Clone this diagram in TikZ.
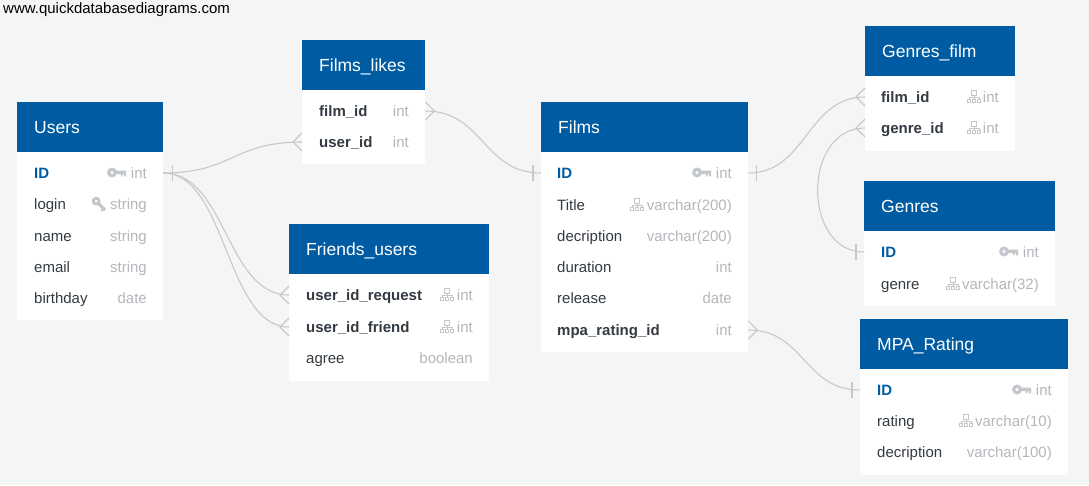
\documentclass[tikz,border=0pt]{standalone}
\usepackage{fontspec}
\setmainfont{Liberation Sans}
\usetikzlibrary{calc}
\definecolor{pagebg}{HTML}{F4F6F6}
\definecolor{headblue}{HTML}{005CA2}
\definecolor{typegray}{HTML}{B4B7BC}
\definecolor{icongray}{HTML}{C4C7CC}
\definecolor{linkgray}{HTML}{C8C8C8}
\definecolor{ink}{HTML}{333A42}
\tikzset{
  x=1pt,y=-1pt,
  tablehead/.style={draw=none,fill=headblue,text=white,minimum height=50pt,text depth=0pt,inner sep=0pt,anchor=north west,font=\fontsize{17.5}{17.5}\selectfont},
  rowbox/.style={draw=none,fill=white,minimum height=31.2pt,inner sep=0pt,anchor=west},
  coltext/.style={inner sep=0pt,anchor=base west,text=ink,font=\fontsize{15}{15}\selectfont},
  fkname/.style={coltext,font=\fontsize{15}{15}\selectfont\bfseries},
  pkname/.style={coltext,text=headblue,font=\fontsize{15}{15}\selectfont\bfseries},
  typetext/.style={inner sep=0pt,anchor=base east,text=typegray,font=\fontsize{15}{15}\selectfont},
  link/.style={draw=linkgray,line width=1.1pt},
  iconline/.style={draw=icongray,line width=0.8pt},
}
% table header: name, x, y, width, title
\newcommand{\tablehd}[5]{\node[tablehead,minimum width=#4pt] (#1) at (#2,#3) {};
  \node[inner sep=0pt,anchor=base west,text=white,font=\fontsize{17.5}{17.5}\selectfont] (#1t) at ($(#1.north west)+(17,31)$) {#5};}
% row: name, x, centre y, width, height
\newcommand{\rowb}[5]{\node[rowbox,minimum width=#4pt,minimum height=#5pt] (#1) at (#2,#3) {};}
% bar across a link, offset from an anchor
\newcommand{\linkbar}[2]{\draw[link] ($(#1)+(#2,-8)$) -- ($(#1)+(#2,8)$);}
% crow's foot: anchor, signed length
\newcommand{\crow}[2]{\draw[link] ($(#1)+(0,-9)$) -- ($(#1)+(#2,0)$) -- ($(#1)+(0,9)$);}
% primary-key icon, right end at given point
\newcommand{\pkicon}[1]{\begin{scope}[shift={(#1)}]
  \fill[icongray,even odd rule] (-14,0) circle (5) (-14,0) circle (1.8);
  \fill[icongray] (-10.5,-1.8) rectangle (0,1.6) (-5.2,1) rectangle (-3.4,3.8) (-2,1) rectangle (0,3.8);
\end{scope}}
% unique-key icon, tilted, tail end at given point
\newcommand{\ukicon}[1]{\begin{scope}[shift={(#1)},rotate=-45]
  \fill[icongray,even odd rule] (-12.5,0) circle (4.5) (-12.5,0) circle (1.6);
  \fill[icongray] (-9,-1.5) rectangle (0,1.5) (-3,1) rectangle (-1,3.4);
\end{scope}}
% foreign-key tree icon, centred
\newcommand{\fkicon}[1]{\begin{scope}[shift={(#1)}]
  \draw[iconline,line width=0.7pt] (-2.5,-6.5) rectangle (2.5,-2);
  \draw[iconline,line width=0.7pt] (0,-2) -- (0,1.5) (-5,1.5) -- (-5,0) -- (5,0) -- (5,1.5);
  \draw[iconline,line width=0.7pt] (-6.5,2) rectangle (-3.5,5.5) (-1.5,2) rectangle (1.5,5.5) (3.5,2) rectangle (6.5,5.5);
\end{scope}}
\begin{document}
\begin{tikzpicture}
\useasboundingbox (0,0) rectangle (1089,485);
\fill[pagebg] (0,0) rectangle (1089,485);
\node[inner sep=0pt,anchor=base west,text=black,font=\fontsize{15}{15}\selectfont] (site) at (3,13) {www.quickdatabasediagrams.com};

% ---- Users
\tablehd{users}{17}{102}{146}{Users}
\fill[white] (17,152) rectangle (163,320);
\rowb{uid}{17}{173}{146}{31}
\rowb{ulogin}{17}{204}{146}{31}
\rowb{uname}{17}{236}{146}{31}
\rowb{uemail}{17}{267}{146}{31}
\rowb{ubirth}{17}{298}{146}{31}
\node[pkname] at (34,178) {ID}; \node[typetext] at (147,178) {int}; \pkicon{126,172.5}
\node[coltext] at (34,209) {login}; \node[typetext] at (147,209) {string}; \ukicon{105,210}
\node[coltext] at (34,241) {name}; \node[typetext] at (147,241) {string};
\node[coltext] at (34,272) {email}; \node[typetext] at (147,272) {string};
\node[coltext] at (34,303) {birthday}; \node[typetext] at (147,303) {date};

% ---- Films_likes
\tablehd{likes}{302}{40}{123}{Films\_likes}
\fill[white] (302,90) rectangle (425,164);
\rowb{lfilm}{302}{111}{123}{31}
\rowb{luser}{302}{142}{123}{31}
\node[fkname] at (319,116) {film\_id}; \node[typetext] at (409,116) {int};
\node[fkname] at (319,147) {user\_id}; \node[typetext] at (409,147) {int};

% ---- Friends_users
\tablehd{friends}{289}{224}{200}{Friends\_users}
\fill[white] (289,274) rectangle (489,381);
\rowb{freq}{289}{295}{200}{31}
\rowb{ffri}{289}{327}{200}{31}
\rowb{fagr}{289}{358}{200}{31}
\node[fkname] at (306,300) {user\_id\_request}; \node[typetext] at (473,300) {int}; \fkicon{447,295}
\node[fkname] at (306,332) {user\_id\_friend}; \node[typetext] at (473,332) {int}; \fkicon{447,327}
\node[coltext] at (306,363) {agree}; \node[typetext] at (473,363) {boolean};

% ---- Films
\tablehd{films}{541}{102}{207}{Films}
\fill[white] (541,152) rectangle (748,352);
\rowb{fid}{541}{173}{207}{31}
\rowb{ftitle}{541}{205}{207}{31}
\rowb{fdesc}{541}{236}{207}{31}
\rowb{fdur}{541}{267}{207}{31}
\rowb{frel}{541}{298}{207}{31}
\rowb{fmpa}{541}{330}{207}{31}
\node[pkname] at (557,178) {ID}; \node[typetext] at (732,178) {int}; \pkicon{711,172.5}
\node[coltext] at (557,210) {Title}; \node[typetext] at (732,210) {varchar(200)}; \fkicon{637,205}
\node[coltext] at (557,241) {decription}; \node[typetext] at (732,241) {varchar(200)};
\node[coltext] at (557,272) {duration}; \node[typetext] at (732,272) {int};
\node[coltext] at (557,303) {release}; \node[typetext] at (732,303) {date};
\node[fkname] at (557,335) {mpa\_rating\_id}; \node[typetext] at (732,335) {int};

% ---- Genres_film
\tablehd{gfilm}{865}{26}{150}{Genres\_film}
\fill[white] (865,76) rectangle (1015,151);
\rowb{gffilm}{865}{97}{150}{31}
\rowb{gfgen}{865}{128}{150}{31}
\node[fkname] at (881,102) {film\_id}; \node[typetext] at (999,102) {int}; \fkicon{974,97}
\node[fkname] at (881,133) {genre\_id}; \node[typetext] at (999,133) {int}; \fkicon{974,128}

% ---- Genres
\tablehd{genres}{864}{181}{191}{Genres}
\fill[white] (864,231) rectangle (1055,306);
\rowb{gid}{864}{252}{191}{31}
\rowb{ggen}{864}{284}{191}{31}
\node[pkname] at (881,257) {ID}; \node[typetext] at (1039,257) {int}; \pkicon{1018,251.5}
\node[coltext] at (881,289) {genre}; \node[typetext] at (1039,289) {varchar(32)}; \fkicon{953,284}

% ---- MPA_Rating
\tablehd{mpa}{860}{319}{208}{MPA\_Rating}
\fill[white] (860,369) rectangle (1068,475);
\rowb{mid}{860}{390}{208}{31}
\rowb{mrat}{860}{421}{208}{31}
\rowb{mdesc}{860}{452}{208}{31}
\node[pkname] at (877,395) {ID}; \node[typetext] at (1052,395) {int}; \pkicon{1031,389.5}
\node[coltext] at (877,426) {rating}; \node[typetext] at (1052,426) {varchar(10)}; \fkicon{966,421}
\node[coltext] at (877,457) {decription}; \node[typetext] at (1052,457) {varchar(100)};

% ---- Connectors
\draw[link] (uid.east) .. controls ++(69,0) and ($(luser.west)+(-69,0)$) .. (luser.west);
\draw[link] (uid.east) .. controls ++(63,0) and ($(freq.west)+(-63,0)$) .. (freq.west);
\draw[link] (uid.east) .. controls ++(63,0) and ($(ffri.west)+(-63,0)$) .. (ffri.west);
\linkbar{uid.east}{9}
\crow{luser.west}{-9}
\crow{freq.west}{-9}
\crow{ffri.west}{-9}

\draw[link] (lfilm.east) .. controls ++(58,0) and ($(fid.west)+(-58,0)$) .. (fid.west);
\crow{lfilm.east}{9}
\linkbar{fid.west}{-8}

\draw[link] (fid.east) .. controls ++(58,0) and ($(gffilm.west)+(-58,0)$) .. (gffilm.west);
\linkbar{fid.east}{8}
\crow{gffilm.west}{-9}

\draw[link] (gfgen.west) .. controls ++(-63,0) and ($(gid.west)+(-62,0)$) .. (gid.west);
\crow{gfgen.west}{-9}
\linkbar{gid.west}{-8}

\draw[link] (fmpa.east) .. controls ++(56,0) and ($(mid.west)+(-56,0)$) .. (mid.west);
\crow{fmpa.east}{9}
\linkbar{mid.west}{-8}
\end{tikzpicture}
\end{document}
